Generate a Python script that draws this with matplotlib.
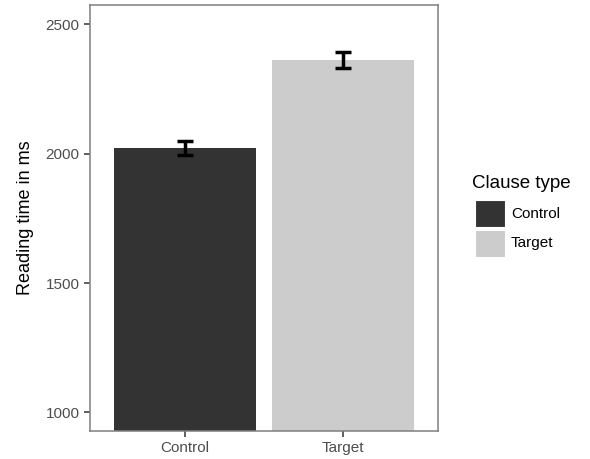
import matplotlib
matplotlib.use('Agg')
import matplotlib.pyplot as plt
from matplotlib.patches import Rectangle

plt.rcParams['font.family'] = ['Liberation Sans', 'DejaVu Sans']

# data
clause_types = ['Control', 'Target']
mean_rt = [2023, 2362]
se_rt = [27, 30]
bar_colors = ['#333333', '#CCCCCC']

fig = plt.figure(figsize=(5.9, 4.59), dpi=100)
ax = fig.add_axes([90 / 590, 28 / 459, 348 / 590, 426 / 459])

xpos = [1, 2]
ax.bar(xpos, mean_rt, width=0.9, color=bar_colors, zorder=2)
ax.errorbar(xpos, mean_rt, yerr=se_rt, fmt='none', ecolor='black',
            elinewidth=2.5, capsize=5.7, capthick=2.5, zorder=3)

ax.set_xlim(0.4, 2.6)
ax.set_ylim(928, 2575)
ax.set_xticks(xpos)
ax.set_xticklabels(clause_types)
ax.set_yticks([1000, 1500, 2000, 2500])

for s in ax.spines.values():
    s.set_color('#7F7F7F')
    s.set_linewidth(1.1)
ax.tick_params(colors='#333333', labelcolor='#4D4D4D', labelsize=11,
               length=4, width=1.1)
ax.set_ylabel('Reading time in ms', fontsize=13, labelpad=8)

# legend
fig.text(472 / 590, 1 - 183 / 459, 'Clause type', fontsize=13.5,
         va='center', ha='left')
for i, (lab, col) in enumerate(zip(clause_types, bar_colors)):
    y0 = 459 - 227 - i * 29.5
    fig.patches.append(Rectangle((475 / 590, y0 / 459), 30 / 590, 27 / 459,
                                 transform=fig.transFigure, facecolor=col,
                                 edgecolor='white', linewidth=0.8))
    fig.text(511 / 590, (y0 + 13.5) / 459, lab, fontsize=11,
             va='center', ha='left')

fig.savefig('out.png', dpi=100)
